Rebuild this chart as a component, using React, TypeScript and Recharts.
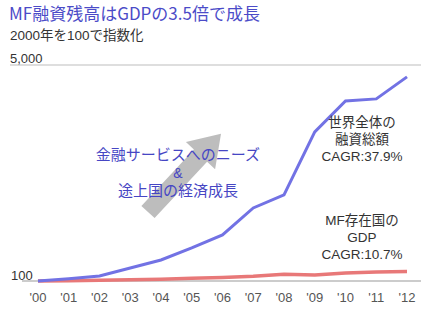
import React from 'react';
import { LineChart, Line, XAxis, YAxis, ReferenceLine } from 'recharts';

const years = ["'00", "'01", "'02", "'03", "'04", "'05", "'06", "'07", "'08", "'09", "'10", "'11", "'12"];
const loanIndex = [100, 150, 213, 395, 577, 849, 1144, 1757, 2052, 3482, 4186, 4231, 4730];
const gdpIndex = [100, 106, 115, 127, 142, 160, 182, 208, 255, 238, 280, 305, 315];
const yTickLabels = ['5,000', '100'];

const data = years.map((label, i) => ({ i, label, loan: loanIndex[i], gdp: gdpIndex[i] }));

const JP = '"Noto Sans CJK JP", "Noto Sans", sans-serif';
const LAT = '"Liberation Sans", Arial, sans-serif';
const MIX = '"Liberation Sans", "Noto Sans CJK JP", sans-serif';

export default function App() {
  const W = 428;
  const H = 321;
  // arrow geometry (decoration)
  const tail = { x: 148, y: 212 };
  const ang = (47 * Math.PI) / 180;
  const L = 107;
  const ux = Math.cos(ang), uy = -Math.sin(ang);
  const vx = Math.sin(ang), vy = Math.cos(ang);
  const tip = { x: tail.x + ux * L, y: tail.y + uy * L };
  const headLen = 30, headHalf = 20, shaftHalf = 9;
  const base = { x: tip.x - ux * headLen, y: tip.y - uy * headLen };
  const pts = [
    [tail.x + vx * shaftHalf, tail.y + vy * shaftHalf],
    [base.x + vx * shaftHalf, base.y + vy * shaftHalf],
    [base.x + vx * headHalf, base.y + vy * headHalf],
    [tip.x, tip.y],
    [base.x - vx * headHalf, base.y - vy * headHalf],
    [base.x - vx * shaftHalf, base.y - vy * shaftHalf],
    [tail.x - vx * shaftHalf, tail.y - vy * shaftHalf],
  ]
    .map((p) => p.map((n) => n.toFixed(1)).join(','))
    .join(' ');

  return (
    <div style={{ position: 'absolute', left: 0, top: 0, width: W, height: H, background: '#fff' }}>
      <svg width={W} height={H} style={{ position: 'absolute', left: 0, top: 0 }}>
        <polygon points={pts} fill="#bdbdbd" />
      </svg>
      <div style={{ position: 'absolute', left: 0, top: 0 }}>
        <LineChart width={W} height={H} data={data} margin={{ top: 65, right: 7, bottom: 10, left: 10 }}>
          <YAxis hide width={0} domain={[100, 5000]} type="number" />
          <XAxis
            dataKey="i"
            type="number"
            domain={[-0.91, 12.455]}
            ticks={data.map((d) => d.i)}
            tickFormatter={(v: number) => years[v]}
            axisLine={false}
            tickLine={false}
            tickMargin={6}
            height={30}
            tick={{ fontSize: 13, fill: '#555', fontFamily: LAT }}
            interval={0}
            allowDataOverflow
          />
          <ReferenceLine y={5000} stroke="#bdbdbd" strokeWidth={1.2} />
          <ReferenceLine
            segment={[
              { x: -0.52, y: 100 },
              { x: 12.455, y: 100 },
            ]}
            stroke="#999"
            strokeWidth={1}
            ifOverflow="visible"
          />
          <Line type="linear" dataKey="gdp" stroke="#e87878" strokeWidth={3.5} dot={false} isAnimationActive={false} />
          <Line type="linear" dataKey="loan" stroke="#7272e4" strokeWidth={3} dot={false} isAnimationActive={false} />
        </LineChart>
      </div>
      <svg width={W} height={H} style={{ position: 'absolute', left: 0, top: 0, pointerEvents: 'none' }}>
        <text x={9} y={20} fontSize={17} fill="#4b4bc8" fontFamily={JP}>MF融資残高はGDPの3.5倍で成長</text>
        <text x={10} y={40} fontSize={13.5} fill="#333" fontFamily={MIX}>2000年を100で指数化</text>
        <text x={10} y={63} fontSize={13} fill="#333" fontFamily={LAT}>{yTickLabels[0]}</text>
        <text x={11} y={280} fontSize={13} fill="#333" fontFamily={LAT}>{yTickLabels[1]}</text>
        <g fontFamily={MIX} fill="#4646c4" textAnchor="middle">
          <text x={178} y={160} fontSize={15}>金融サービスへのニーズ</text>
          <text x={178} y={178} fontSize={14}>&amp;</text>
          <text x={178} y={196} fontSize={15}>途上国の経済成長</text>
        </g>
        <g fontSize={13.5} fill="#333" textAnchor="middle" fontFamily={MIX}>
          <text x={362} y={127}>世界全体の</text>
          <text x={362} y={144}>融資総額</text>
          <text x={362} y={161}>CAGR:37.9%</text>
          <text x={362} y={225}>MF存在国の</text>
          <text x={362} y={242}>GDP</text>
          <text x={362} y={259}>CAGR:10.7%</text>
        </g>
      </svg>
    </div>
  );
}
